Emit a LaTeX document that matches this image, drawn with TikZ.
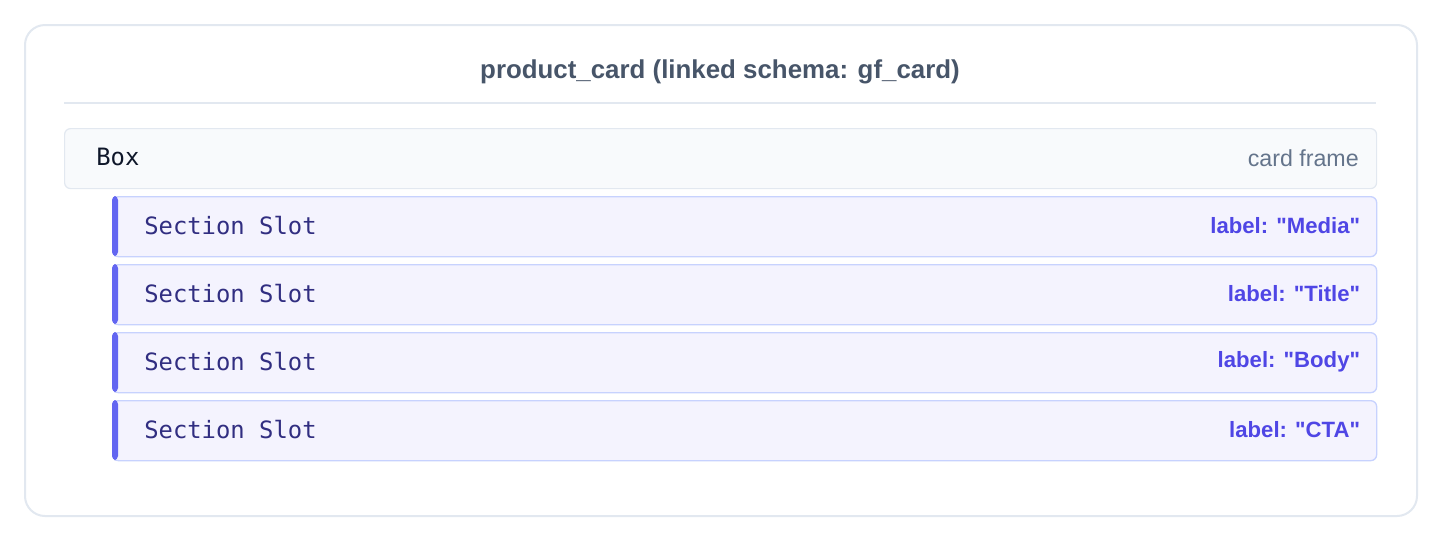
\documentclass[tikz,border=0pt]{standalone}
\usepackage{fontspec}
\setmainfont{Liberation Sans}[Ligatures=TeXOff]
\newfontfamily\monofont{DejaVu Sans Mono}
\definecolor{frameborder}{HTML}{E2E8F0}
\definecolor{titlecol}{HTML}{475569}
\definecolor{boxfill}{HTML}{F8FAFC}
\definecolor{boxtext}{HTML}{0F172A}
\definecolor{mutedtext}{HTML}{64748B}
\definecolor{slotfill}{HTML}{F4F3FE}
\definecolor{slotborder}{HTML}{C7D2FE}
\definecolor{slotbar}{HTML}{6366F1}
\definecolor{slottext}{HTML}{312E81}
\definecolor{slotlabel}{HTML}{4F46E5}
\tikzset{
  outerframe/.style={draw=frameborder, line width=1.5pt, rounded corners=15pt, fill=white, inner sep=0pt, minimum width=1044pt, minimum height=368.25pt, anchor=north west},
  boxnode/.style={draw=frameborder, line width=0.9pt, rounded corners=4.5pt, fill=boxfill, inner sep=0pt, minimum width=984pt, minimum height=45pt, anchor=north west},
  slotnode/.style={draw=slotborder, line width=1pt, rounded corners=4.5pt, fill=slotfill, inner sep=0pt, minimum width=948pt, minimum height=45pt, anchor=north west},
  titletext/.style={font=\fontsize{19.4pt}{22pt}\selectfont\bfseries, text=titlecol, inner sep=0pt},
  monotext/.style={font=\monofont\fontsize{17.9pt}{20pt}\selectfont, inner sep=0pt, anchor=west},
  righttext/.style={inner sep=0pt, anchor=east},
}
\begin{document}
\begin{tikzpicture}[x=0.75pt, y=-0.75pt]
\useasboundingbox (0,0) rectangle (1440,540);
\fill[white] (0,0) rectangle (1440,540);
\node[outerframe] (frame) at (24,24) {};
\node[titletext] (title) at (720,72) {product\_card (linked schema: gf\_card)};
\coordinate (divl) at (64,103);
\coordinate (divr) at (1376,103);
\draw[frameborder, line width=1.5pt] (divl) -- (divr);
\node[boxnode] (box) at (64,128) {};
\node[monotext, text=boxtext] (boxname) at (96,157) {Box};
\node[righttext, text=mutedtext, font=\fontsize{17.4pt}{19pt}\selectfont] (boxnote) at (1359,158) {card frame};
\foreach \i/\y/\lab in {1/196/Media, 2/264/Title, 3/332/Body, 4/400/CTA} {
  \node[slotnode] (slot\i) at (112,\y) {};
  \fill[slotbar, rounded corners=3pt] (slot\i.north west) -- ++(4.5pt,0) -- ++(0,-45pt) -- ++(-4.5pt,0) -- cycle;
  \node[monotext, text=slottext] (slotname\i) at ([xshift=24pt,yshift=1pt]slot\i.west) {Section Slot};
  \node[righttext, text=slotlabel, font=\fontsize{16.6pt}{19pt}\selectfont\bfseries] (slotlab\i) at ([xshift=-12.75pt,yshift=1pt]slot\i.east) {label: "\lab"};
}
\end{tikzpicture}
\end{document}
